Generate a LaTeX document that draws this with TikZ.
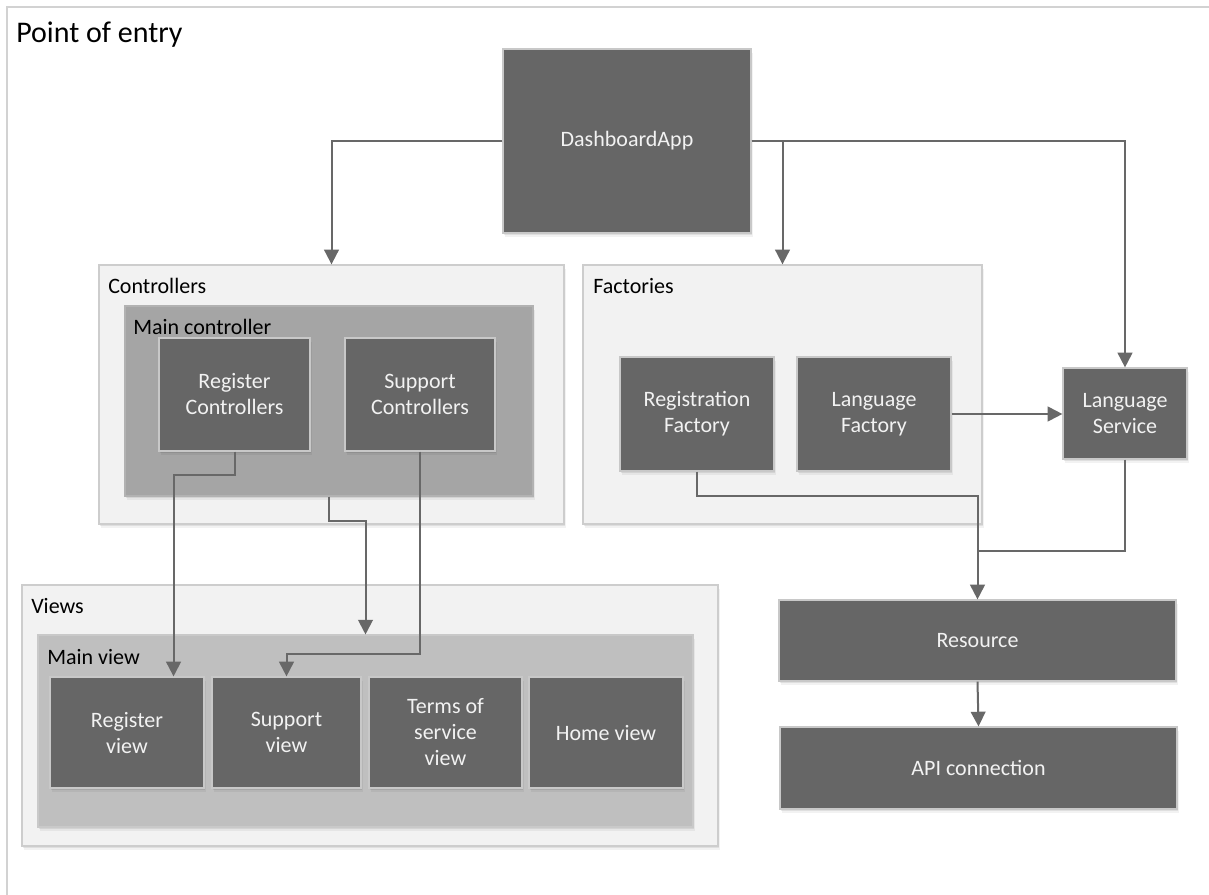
\documentclass[tikz,border=0pt]{standalone}
\usepackage{fontspec}
\setmainfont{Carlito}
\usetikzlibrary{arrows.meta,fit,shadows}

\definecolor{boxfill}{HTML}{666666}
\definecolor{boxedge}{HTML}{C8C8C8}
\definecolor{panelfill}{HTML}{F2F2F2}
\definecolor{paneledge}{HTML}{CDCDCD}
\definecolor{midfill}{HTML}{A5A5A5}
\definecolor{lightfill}{HTML}{BFBFBF}
\definecolor{wirecol}{HTML}{686868}
\definecolor{framecol}{HTML}{D2D2D2}

\tikzset{
  softshadow/.style={
    general shadow={shadow xshift=1.4pt, shadow yshift=-2.8pt, fill=black, opacity=0.05},
    general shadow={shadow xshift=0.8pt, shadow yshift=-1.6pt, fill=black, opacity=0.08}},
  container/.style={fill=panelfill, draw=paneledge, line width=1pt, inner sep=0pt, softshadow},
  innerpanel/.style={fill=#1, draw=#1!85!white, line width=0.8pt, inner sep=0pt, softshadow},
  darkbox/.style={fill=boxfill, draw=boxedge, line width=0.9pt, inner sep=0pt, softshadow,
    text=white!95!black, align=center, font=\fontsize{16.5}{19.5}\selectfont},
  boxsize/.style 2 args={minimum width=#1*0.75pt, minimum height=#2*0.75pt},
  lbl/.style={anchor=base west, inner sep=0pt, font=\fontsize{16.5}{20}\selectfont, text=black},
  wire/.style={draw=wirecol, line width=1.5pt},
  arrowwire/.style={wire, -{Triangle[length=11pt,width=11pt]}}
}

\begin{document}
\begin{tikzpicture}[x=0.75pt, y=-0.75pt]
\useasboundingbox (0,0) rectangle (1209,895);
\fill[white] (0,0) rectangle (1209,895);

% outer frame of the entry point
\draw[framecol, line width=1.5pt] (7,900) -- (7,7) -- (1215,7);
\node[anchor=base west, inner sep=0pt, font=\fontsize{22.5}{26}\selectfont] (title) at (16,43) {Point of entry};

% application root
\node[darkbox, boxsize={248}{184}] (dash) at (627,141) {DashboardApp};

% controllers group
\node[container, fit={(99,265)(564,524)}] (ctrl) {};
\node[lbl] (ctrlT) at (108,293) {Controllers};
\node[innerpanel=midfill, fit={(125,306)(533,496)}] (mc) {};
\node[lbl] (mcT) at (133,334) {Main controller};
\node[darkbox, boxsize={151}{113}] (rc) at (234.5,394.5) {Register\\Controllers};
\node[darkbox, boxsize={150}{113}] (sc) at (420,394.5) {Support\\Controllers};

% factories group
\node[container, fit={(583,265)(982,524)}] (fact) {};
\node[lbl] (factT) at (593,293) {Factories};
\node[darkbox, boxsize={154}{114}] (rfact) at (697,414) {Registration\\Factory};
\node[darkbox, boxsize={154}{114}] (lfact) at (874,414) {Language\\Factory};

% services
\node[darkbox, boxsize={124}{91}] (lserv) at (1125,413.5) {Language\\Service};
\node[darkbox, boxsize={397}{81}] (res) at (977.5,640.5) {Resource};
\node[darkbox, boxsize={397}{82}] (api) at (978.5,768) {API connection};

% views group
\node[container, fit={(22,585)(718,846)}] (views) {};
\node[lbl] (viewsT) at (31,613) {Views};
\node[innerpanel=lightfill, fit={(38,635)(693,827)}] (mv) {};
\node[lbl] (mvT) at (47,664) {Main view};
\node[darkbox, boxsize={154}{111}] (rv) at (127,732.5) {Register\\view};
\node[darkbox, boxsize={149}{111}] (sv) at (286.5,732.5) {Support\\view};
\node[darkbox, boxsize={153}{111}] (tv) at (445.5,732.5) {Terms of\\service\\view};
\node[darkbox, boxsize={154}{111}] (hv) at (606,732.5) {Home view};

% connectors
\draw[arrowwire] (dash.west) -| (ctrl.north);
\draw[arrowwire] (dash.east) -| (fact.north);
\draw[arrowwire] (dash.east) -| (lserv.north);
\draw[arrowwire] (lfact.east) -- (lfact.east -| lserv.west);
\draw[arrowwire] (rfact.south) -- ++(0,24) -| (res.north);
\draw[wire] (lserv.south) |- ([yshift=36pt]res.north);
\draw[arrowwire] (res.south) -- (api.north);
\draw[arrowwire] (rc.south) -- ++(0,23) -| ([xshift=34.9pt]rv.north);
\draw[arrowwire] (mc.south) -- ++(0,24) -| (mv.north);
\draw[arrowwire] (sc.south) -- ++(0,202) -| (sv.north);
\end{tikzpicture}
\end{document}
